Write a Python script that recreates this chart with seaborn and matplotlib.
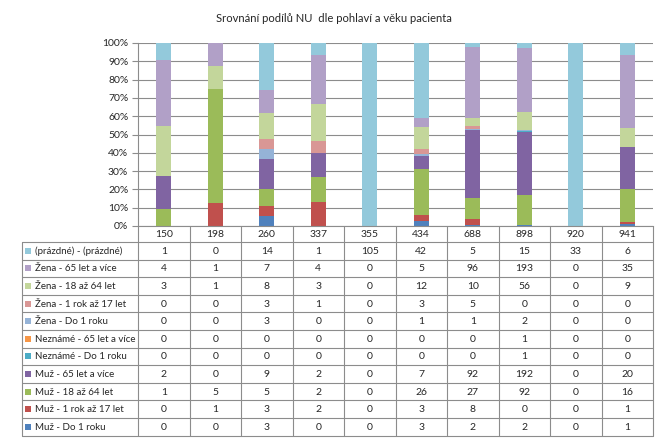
import numpy as np
import pandas as pd
import matplotlib
matplotlib.use("Agg")
import matplotlib.pyplot as plt
import seaborn as sns
from matplotlib.ticker import PercentFormatter

categories = ["150", "198", "260", "337", "355", "434", "688", "898", "920", "941"]

series_names = [
    "(prázdné) - (prázdné)",
    "Žena - 65 let a více",
    "Žena - 18 až 64 let",
    "Žena - 1 rok až 17 let",
    "Žena - Do 1 roku",
    "Neznámé - 65 let a více",
    "Neznámé - Do 1 roku",
    "Muž - 65 let a více",
    "Muž - 18 až 64 let",
    "Muž - 1 rok až 17 let",
    "Muž - Do 1 roku",
]

prazdne = [1, 0, 14, 1, 105, 42, 5, 15, 33, 6]
zena_65 = [4, 1, 7, 4, 0, 5, 96, 193, 0, 35]
zena_18_64 = [3, 1, 8, 3, 0, 12, 10, 56, 0, 9]
zena_1_17 = [0, 0, 3, 1, 0, 3, 5, 0, 0, 0]
zena_do1 = [0, 0, 3, 0, 0, 1, 1, 2, 0, 0]
nezname_65 = [0, 0, 0, 0, 0, 0, 0, 1, 0, 0]
nezname_do1 = [0, 0, 0, 0, 0, 0, 0, 1, 0, 0]
muz_65 = [2, 0, 9, 2, 0, 7, 92, 192, 0, 20]
muz_18_64 = [1, 5, 5, 2, 0, 26, 27, 92, 0, 16]
muz_1_17 = [0, 1, 3, 2, 0, 3, 8, 0, 0, 1]
muz_do1 = [0, 0, 3, 0, 0, 3, 2, 2, 0, 1]

series_values = [prazdne, zena_65, zena_18_64, zena_1_17, zena_do1,
                 nezname_65, nezname_do1, muz_65, muz_18_64, muz_1_17, muz_do1]

colors = ["#93C9DB", "#B1A0C7", "#C3D69B", "#D99795", "#95B3D7",
          "#F79646", "#4BACC6", "#8064A2", "#9BBB59", "#C0504D", "#4F81BD"]

title = "Srovnání podílů NU  dle pohlaví a věku pacienta"

# long table for seaborn
rows = []
for name, vals in zip(series_names, series_values):
    for cat, v in zip(categories, vals):
        rows.append({"kategorie": cat, "serie": name, "pocet": v})
df = pd.DataFrame(rows)

sns.set_style("white")
plt.rcParams["font.family"] = ["Lato", "DejaVu Sans"]

W, H = 667, 442
fig = plt.figure(figsize=(W / 100, H / 100), dpi=100)

# plot area in pixel terms
left, right, top, bottom = 138, 653, 43, 226
ax = fig.add_axes([left / W, 1 - bottom / H, (right - left) / W, (bottom - top) / H])

sns.histplot(data=df, x="kategorie", hue="serie", weights="pocet",
             hue_order=series_names, palette=colors, multiple="fill",
             discrete=True, shrink=0.3, linewidth=0, alpha=1,
             legend=False, ax=ax)

ax.set_xlim(-0.5, len(categories) - 0.5)
ax.set_ylim(0, 1)
ax.set_yticks(np.arange(0, 1.01, 0.1))
ax.yaxis.set_major_formatter(PercentFormatter(1.0, decimals=0))
ax.yaxis.grid(True, color="#8c8c8c", linewidth=0.8)
ax.set_axisbelow(True)
ax.set_xlabel("")
ax.set_ylabel("")
ax.set_xticks([])
for s in ["top", "right"]:
    ax.spines[s].set_visible(False)
for s in ["left", "bottom"]:
    ax.spines[s].set_color("#8c8c8c")
    ax.spines[s].set_linewidth(0.8)
ax.tick_params(axis="y", length=4, width=0.8, color="#8c8c8c",
               labelsize=7.5, pad=3, left=True)

# --- data table under the plot (drawn on a pixel-coordinate overlay) ---
tab = fig.add_axes([0, 0, 1, 1], zorder=-1)
tab.set_xlim(0, W)
tab.set_ylim(H, 0)
tab.axis("off")

line_kw = dict(color="#8c8c8c", linewidth=0.8)
n = len(categories)
col_w = (right - left) / n
x_edges = left + np.arange(n + 1) * col_w
label_left = 22
row_h = 17.6
row_top = 242
row_edges = row_top + np.arange(len(series_names) + 1) * row_h

for y in row_edges:
    tab.plot([label_left, right], [y, y], **line_kw)
tab.plot([label_left, label_left], [row_top, row_edges[-1]], **line_kw)
for x in x_edges:
    tab.plot([x, x], [bottom, row_edges[-1]], **line_kw)

for i, cat in enumerate(categories):
    xc = left + (i + 0.5) * col_w
    tab.text(xc, (bottom + row_top) / 2 + 0.5, cat, ha="center", va="center", fontsize=7.5)

for r, (name, vals, c) in enumerate(zip(series_names, series_values, colors)):
    yc = row_top + (r + 0.5) * row_h
    tab.add_patch(plt.Rectangle((25, yc - 3), 6, 6, color=c, linewidth=0))
    tab.text(35, yc + 0.5, name, ha="left", va="center", fontsize=7.0)
    for i, v in enumerate(vals):
        xc = left + (i + 0.5) * col_w
        tab.text(xc, yc + 0.5, str(v), ha="center", va="center", fontsize=7.5)

fig.text(0.5, 1 - 18 / H, title, ha="center", va="center", fontsize=8.1)

fig.savefig("out.png", dpi=100)
